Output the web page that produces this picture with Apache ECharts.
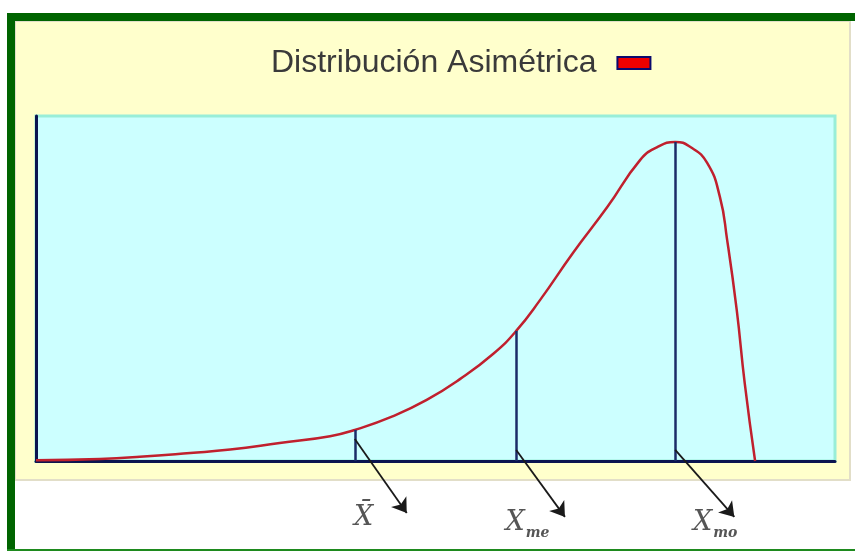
<!DOCTYPE html>
<html>
<head>
<meta charset="utf-8">
<script src="https://cdn.jsdelivr.net/npm/echarts@6/dist/echarts.min.js"></script>
<style>
  html, body { margin: 0; padding: 0; background: #fff; }
  #grafico { width: 855px; height: 551px; }
</style>
</head>
<body>
<div id="grafico"></div>
<script>
// curva asimetrica (x de 0 a 100, y de 0 a 100)
var curvaX = [0, 8.0, 13.0, 19.3, 24.3, 30.5, 36.8, 39.9, 44.7, 48.9, 53.1, 57.2, 60.1, 63.1, 67.2, 71.5, 75.6, 77.7, 80.0, 81.9, 84.0, 85.6, 86.5, 87.7, 88.7, 90.0];
var curvaY = [0.2, 0.6, 1.2, 2.3, 3.3, 5.2, 7.2, 9.0, 13.0, 17.7, 23.8, 31.0, 37.7, 46.7, 60.3, 73.6, 87.2, 90.9, 92.5, 91.0, 86.4, 76.5, 64.1, 43.8, 22.6, 0];

// media, mediana, moda
var medidasX = [39.9, 60.1, 80.0];
var medidasY = [9.0, 37.7, 92.5];

// flechas hacia las etiquetas
var flechaInicioY = [6.4, 3.2, 3.2];
var flechaFinX = [46.4, 66.2, 87.4];
var flechaFinY = [-15.1, -16.2, -16.2];

// etiquetas
var etiquetas = ['{x|X̄}', '{x|X}{s|me}', '{x|X}{s|mo}'];
var etiquetaX = [41.0, 61.5, 85.0];
var etiquetaY = [-16.5, -18.0, -18.0];

var nombre = 'Distribución Asimétrica';

var myChart = echarts.init(document.getElementById('grafico'));

var curva = [];
for (var i = 0; i < curvaX.length; i++) curva.push([curvaX[i], curvaY[i]]);

var verticales = [];
var flechas = [];
var textos = [];
for (var j = 0; j < medidasX.length; j++) {
    verticales.push([{ coord: [medidasX[j], 0] }, { coord: [medidasX[j], medidasY[j]] }]);
    flechas.push({ coords: [[medidasX[j], flechaInicioY[j]], [flechaFinX[j], flechaFinY[j]]] });
    textos.push({ value: [etiquetaX[j], etiquetaY[j]], label: { formatter: etiquetas[j] } });
}

var option = {
    backgroundColor: '#ffffff',
    animation: false,
    graphic: [
        { type: 'rect', z: -10, shape: { x: 15, y: 21, width: 835, height: 459 }, style: { fill: '#FFFFCC', stroke: '#E2DEC8', lineWidth: 2 } },
        { type: 'rect', z: -5, shape: { x: 7, y: 13, width: 848, height: 8 }, style: { fill: '#006400' } },
        { type: 'rect', z: -5, shape: { x: 7, y: 13, width: 8, height: 538 }, style: { fill: '#006400' } },
        { type: 'rect', z: -5, shape: { x: 7, y: 549, width: 848, height: 2 }, style: { fill: '#1E8A1E' } }
    ],
    legend: {
        left: 266,
        top: 42,
        align: 'right',
        itemWidth: 33,
        itemHeight: 12,
        textStyle: {
            fontFamily: 'Liberation Sans',
            fontSize: 32,
            color: '#3a3a3a',
            padding: [0, 16, 0, 0],
            textShadowColor: 'rgba(0,0,0,0.2)',
            textShadowOffsetX: 1,
            textShadowOffsetY: 1
        },
        data: [{
            name: nombre,
            icon: 'rect',
            itemStyle: { color: '#EE0000', borderColor: '#0A0A6E', borderWidth: 2 }
        }]
    },
    grid: {
        left: 36,
        right: 20,
        top: 116,
        bottom: 90,
        show: true,
        backgroundColor: '#CCFFFF',
        borderColor: '#99EED8',
        borderWidth: 3
    },
    xAxis: {
        type: 'value',
        min: 0,
        max: 100,
        axisLine: { show: true, onZero: false, lineStyle: { color: '#0A1450', width: 3 } },
        axisTick: { show: false },
        axisLabel: { show: false },
        splitLine: { show: false }
    },
    yAxis: {
        type: 'value',
        min: 0,
        max: 100,
        axisLine: { show: true, onZero: false, lineStyle: { color: '#0A1450', width: 3 } },
        axisTick: { show: false },
        axisLabel: { show: false },
        splitLine: { show: false }
    },
    series: [
        {
            name: nombre,
            type: 'line',
            data: curva,
            smooth: 0.5,
            symbol: 'none',
            z: 3,
            lineStyle: { color: '#C0202E', width: 2.5 },
            itemStyle: { color: '#EE0000' }
        },
        {
            name: 'medidas',
            type: 'line',
            data: [],
            symbol: 'none',
            z: 4,
            markLine: {
                silent: true,
                symbol: ['none', 'none'],
                label: { show: false },
                lineStyle: { color: '#1B2C68', width: 2.5, type: 'solid' },
                data: verticales
            }
        },
        {
            name: 'flechas',
            type: 'lines',
            coordinateSystem: 'cartesian2d',
            clip: false,
            z: 5,
            symbol: ['none', 'arrow'],
            symbolSize: 14,
            lineStyle: { color: '#1a1a1a', width: 1.8, opacity: 1 },
            data: flechas
        },
        {
            name: 'etiquetas',
            type: 'scatter',
            clip: false,
            symbolSize: 0,
            data: textos,
            label: {
                show: true,
                position: 'inside',
                rich: {
                    x: { fontFamily: 'DejaVu Serif', fontStyle: 'italic', fontSize: 27, color: '#2a2a2a' },
                    s: { fontFamily: 'DejaVu Serif', fontStyle: 'italic', fontWeight: 'bold', fontSize: 14, color: '#2a2a2a', padding: [20, 0, 0, 1] }
                }
            }
        }
    ]
};
myChart.setOption(option);
window.addEventListener('resize', function () {
    myChart.resize();
});
</script>
</body>
</html>
